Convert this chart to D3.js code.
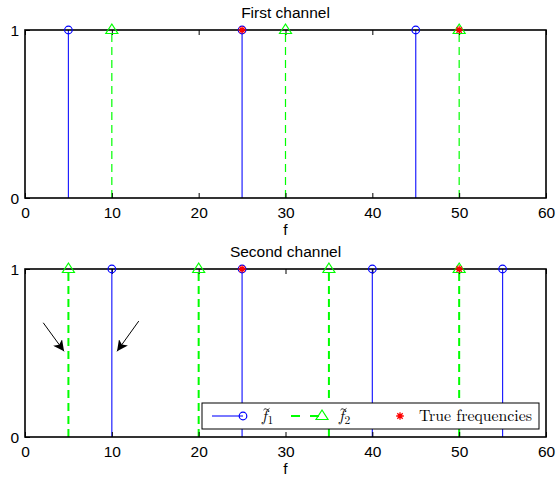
<!DOCTYPE html>
<html><head><meta charset="utf-8">
<script src="https://cdn.jsdelivr.net/npm/d3@7"></script>
<style>body{margin:0;background:#fff}</style>
</head><body>
<script>
// ---- data ----
const xTicks = [0, 10, 20, 30, 40, 50, 60];
const yTicks = [0, 1];
const titles = ["First channel", "Second channel"];
const f1Top = [5, 25, 45];
const f2Top = [10, 30, 50];
const trueTop = [25, 50];
const f1Bottom = [10, 25, 40, 55];
const f2Bottom = [5, 20, 35, 50];
const trueBottom = [25, 50];
const amplitude = 1;
// arrows in bottom panel: [x tail, y tail, x tip, y tip]
const arrowTails = [[2.1, 0.68], [13.1, 0.69]];
const arrowTips = [[4.5, 0.51], [10.6, 0.51]];
const legendLabels = ["1", "2", "True frequencies"];

const W = 559, H = 480;
const FS = 15.5;
const svg = d3.select("body").append("svg").attr("width", W).attr("height", H)
  .style("font-family", "'Liberation Sans', Arial, sans-serif");

const defs = svg.append("defs");
defs.append("marker").attr("id", "ah").attr("viewBox", "0 0 10 10")
  .attr("refX", 10).attr("refY", 5).attr("markerWidth", 11).attr("markerHeight", 11)
  .attr("markerUnits", "userSpaceOnUse").attr("orient", "auto")
  .append("path").attr("d", "M0,0 L10,5 L0,10 L2.5,5 Z").attr("fill", "#000");

const x = d3.scaleLinear().domain([0, 60]).range([25, 546]);

function asterisk(s) {
  const d = s * 0.7071;
  return `M${-s},0L${s},0M0,${-s}L0,${s}M${-d},${-d}L${d},${d}M${-d},${d}L${d},${-d}`;
}
const triPath = "M0,-6L6,3.5L-6,3.5Z";

function panel(top, bottom, title, f1, f2, tr, greenW, arrows) {
  const y = d3.scaleLinear().domain([0, 1]).range([bottom, top]);
  const g = svg.append("g");
  g.selectAll(".b").data(f1).join("line")
    .attr("x1", d => x(d)).attr("x2", d => x(d))
    .attr("y1", y(0)).attr("y2", y(amplitude))
    .attr("stroke", "#2020ff").attr("stroke-width", 1.2);
  g.selectAll(".g").data(f2).join("line")
    .attr("x1", d => x(d)).attr("x2", d => x(d))
    .attr("y1", y(0)).attr("y2", y(amplitude))
    .attr("stroke", "#00ff00").attr("stroke-width", greenW)
    .attr("stroke-dasharray", "8,5");
  const ax = d3.axisBottom(x).tickValues(xTicks).tickSize(-5).tickPadding(9).tickSizeOuter(0);
  const axT = d3.axisTop(x).tickValues(xTicks).tickSize(-5).tickFormat("").tickSizeOuter(0);
  const ay = d3.axisLeft(y).tickValues(yTicks).tickSize(-5).tickPadding(6).tickFormat(d3.format("d")).tickSizeOuter(0);
  const gx = g.append("g").attr("transform", `translate(0,${bottom})`).call(ax);
  const gt = g.append("g").attr("transform", `translate(0,${top})`).call(axT);
  const gy = g.append("g").attr("transform", `translate(25,0)`).call(ay);
  [gx, gt, gy].forEach(a => {
    a.select(".domain").remove();
    a.selectAll("line").attr("stroke", "#000").attr("stroke-width", 1);
    a.selectAll("text").attr("font-size", FS).attr("fill", "#000")
      .attr("font-family", "'Liberation Sans', Arial, sans-serif");
  });
  gy.selectAll("text").attr("dy", "0.36em");
  g.append("rect").attr("x", x(0)).attr("y", top).attr("width", x(60) - x(0))
    .attr("height", bottom - top).attr("fill", "none").attr("stroke", "#000").attr("stroke-width", 1.6);
  g.selectAll(".c").data(f1).join("circle")
    .attr("cx", d => x(d)).attr("cy", y(amplitude)).attr("r", 3.8)
    .attr("fill", "none").attr("stroke", "#0000ff").attr("stroke-width", 1.2);
  g.selectAll(".t").data(f2).join("path")
    .attr("transform", d => `translate(${x(d)},${y(amplitude)})`)
    .attr("d", triPath).attr("fill", "none").attr("stroke", "#00ff00").attr("stroke-width", 1.2);
  g.selectAll(".a").data(tr).join("path")
    .attr("transform", d => `translate(${x(d)},${y(amplitude)})`)
    .attr("d", asterisk(3.8)).attr("fill", "none").attr("stroke", "#ff0000").attr("stroke-width", 1.3);
  g.append("text").attr("x", (x(0) + x(60)) / 2).attr("y", top - 12).attr("text-anchor", "middle")
    .attr("font-size", FS).text(title);
  g.append("text").attr("x", x(30)).attr("y", bottom + 37).attr("text-anchor", "middle")
    .attr("font-size", FS).text("f");
  if (arrows) {
    arrows.tails.forEach((t, i) => {
      const p = arrows.tips[i];
      g.append("line").attr("x1", x(t[0])).attr("y1", y(t[1]))
        .attr("x2", x(p[0])).attr("y2", y(p[1]))
        .attr("stroke", "#000").attr("stroke-width", 1).attr("marker-end", "url(#ah)");
    });
  }
  return {g, y};
}

panel(30, 198, titles[0], f1Top, f2Top, trueTop, 1.2, null);
panel(269, 437, titles[1], f1Bottom, f2Bottom, trueBottom, 2, {tails: arrowTails, tips: arrowTips});

// legend
const lg = svg.append("g");
lg.append("rect").attr("x", 202).attr("y", 403).attr("width", 337).attr("height", 26)
  .attr("fill", "#fff").attr("stroke", "#000").attr("stroke-width", 1);
const ly = 416;
lg.append("line").attr("x1", 212).attr("x2", 243).attr("y1", ly).attr("y2", ly)
  .attr("stroke", "#2020ff").attr("stroke-width", 1.2);
lg.append("circle").attr("cx", 243).attr("cy", ly).attr("r", 3.8)
  .attr("fill", "none").attr("stroke", "#0000ff").attr("stroke-width", 1.2);
lg.append("line").attr("x1", 291).attr("x2", 322).attr("y1", ly).attr("y2", ly)
  .attr("stroke", "#00ff00").attr("stroke-width", 2).attr("stroke-dasharray", "9,10");
lg.append("path").attr("transform", `translate(322,${ly})`).attr("d", triPath)
  .attr("fill", "none").attr("stroke", "#00ff00").attr("stroke-width", 1.2);
lg.append("path").attr("transform", `translate(400,${ly})`).attr("d", asterisk(3.8))
  .attr("fill", "none").attr("stroke", "#ff0000").attr("stroke-width", 1.3);

const serif = "'Latin Modern Roman','Liberation Serif','DejaVu Serif',serif";
[[262, legendLabels[0]], [339, legendLabels[1]]].forEach(([px, sub]) => {
  const t = lg.append("text").attr("x", px).attr("y", ly + 5).attr("font-family", serif).attr("font-size", 16);
  t.append("tspan").attr("font-style", "italic").text("f");
  t.append("tspan").attr("font-size", 11.5).attr("dy", 3).attr("dx", 0.5).text(sub);
  // tilde accent drawn as a path
  lg.append("path").attr("d", `M${px + 1.5},${ly - 6} q1.5,-2.2 3,-0.8 t3,-0.8`)
    .attr("fill", "none").attr("stroke", "#000").attr("stroke-width", 0.8);
});
lg.append("text").attr("x", 419).attr("y", ly + 5).attr("font-family", serif).attr("font-size", 16)
  .attr("textLength", 113).attr("lengthAdjust", "spacingAndGlyphs").text(legendLabels[2]);
</script>
</body></html>
